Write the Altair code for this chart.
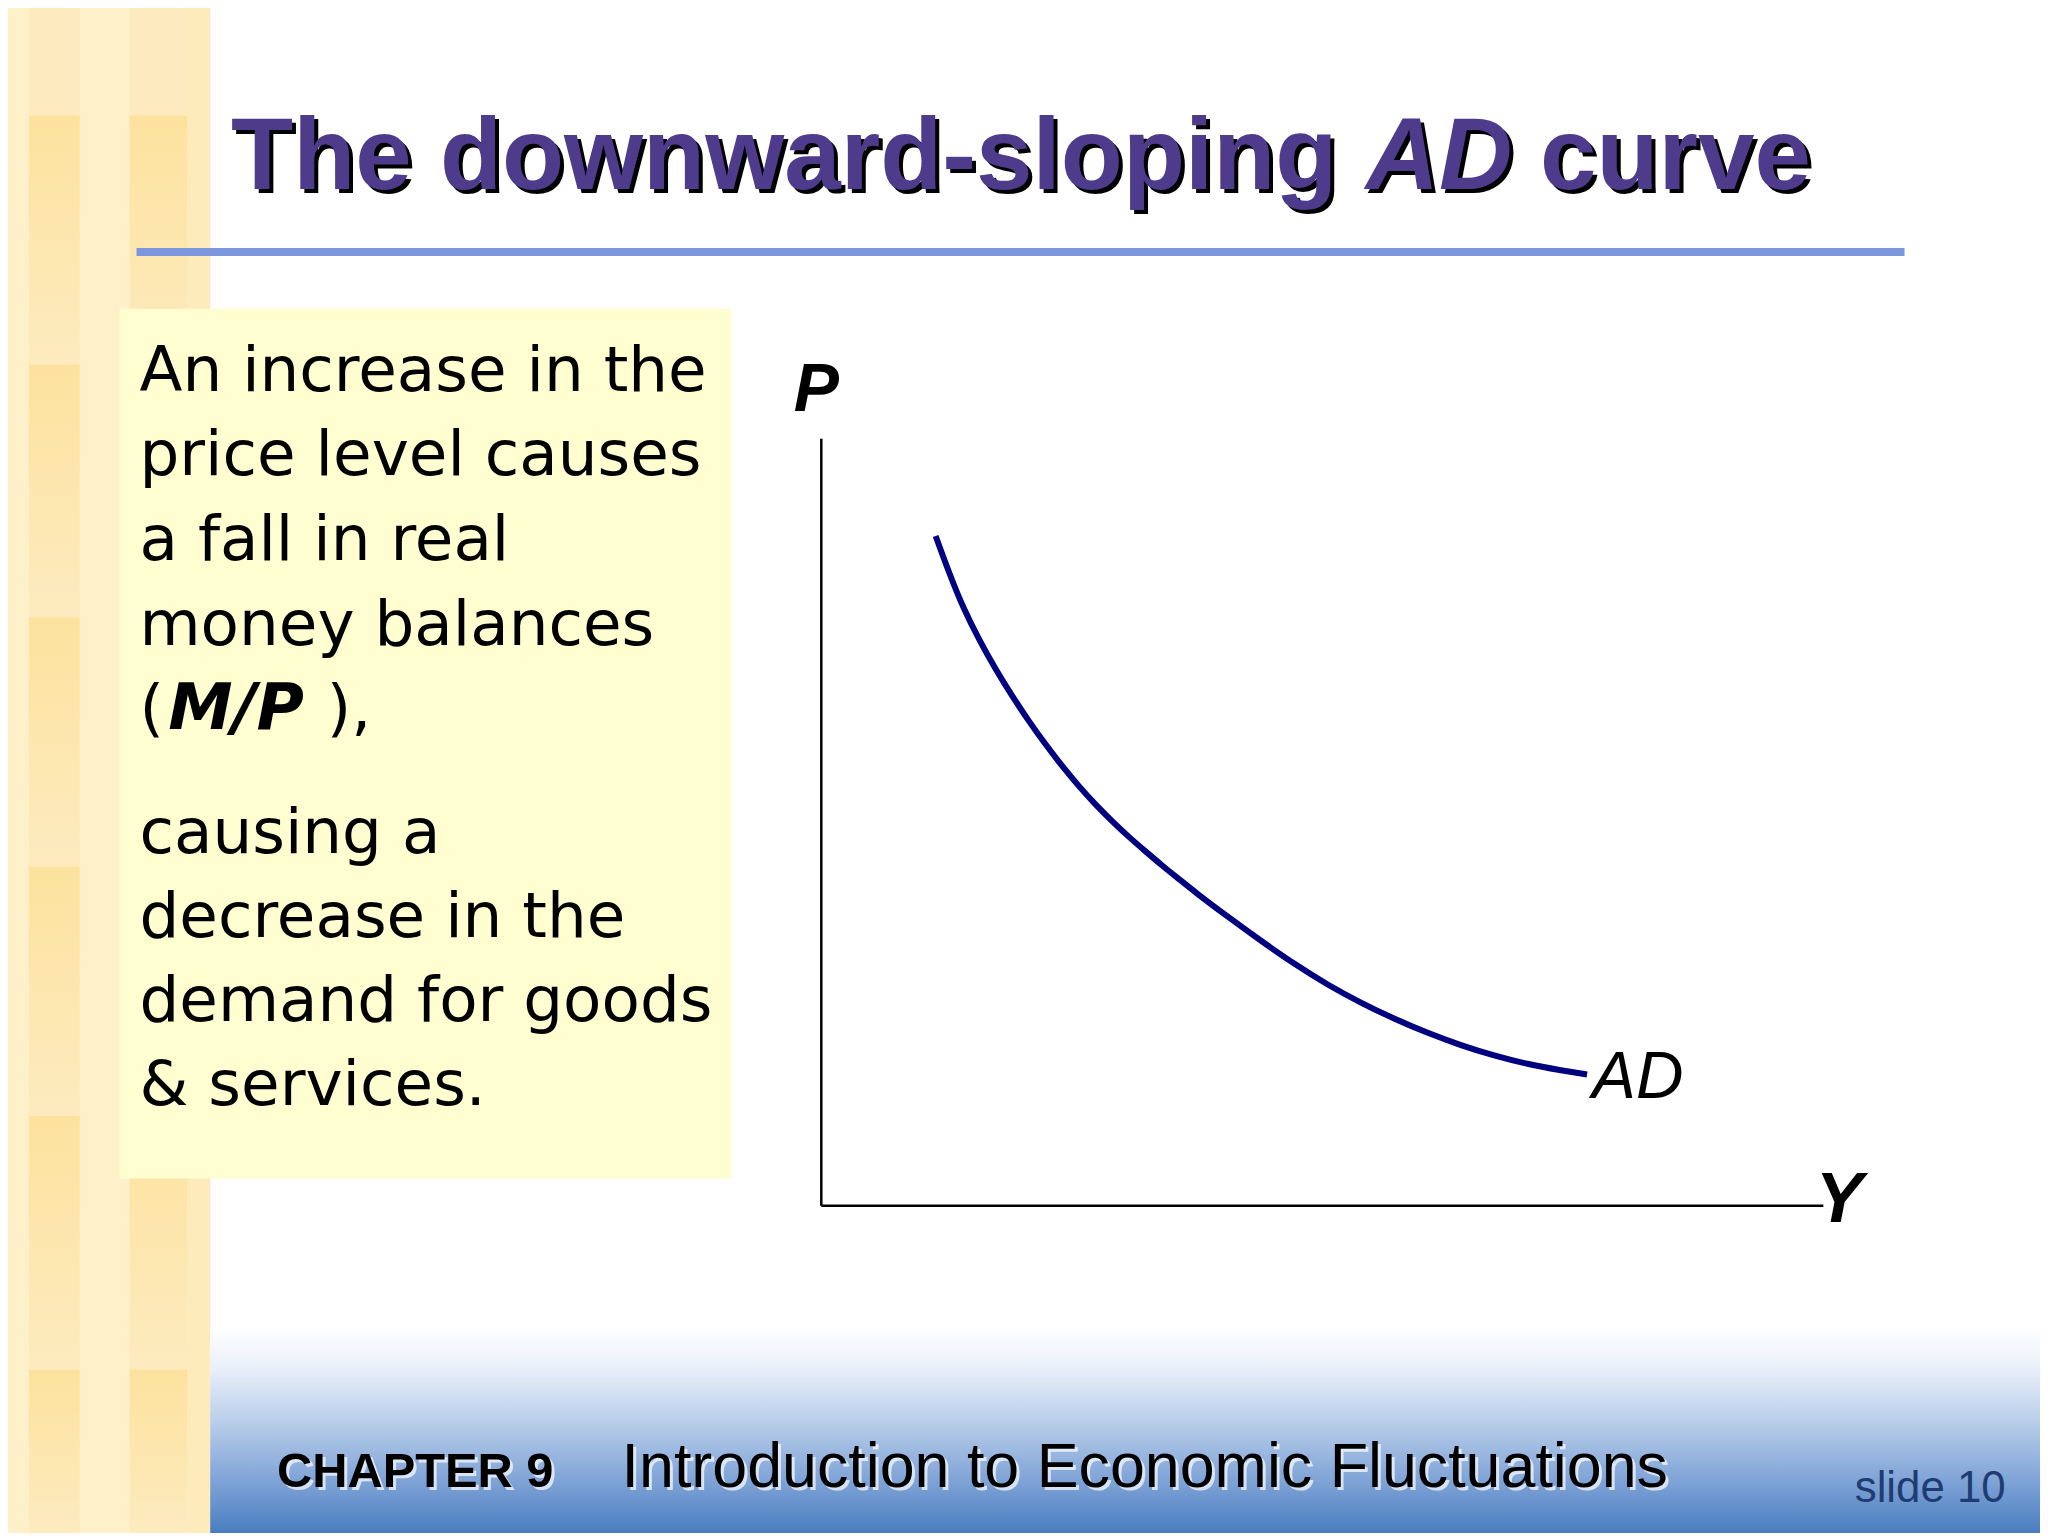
import altair as alt
import pandas as pd

# ---------------- data ----------------
# AD curve (output Y on x, price level P on y, 0-10 units)
ad_output = [1.146, 1.285, 1.418, 1.583, 1.750, 1.915, 2.081, 2.247, 2.413, 2.578,
             2.744, 2.910, 3.075, 3.241, 3.407, 3.572, 3.738, 4.069, 4.401, 4.732,
             5.063, 5.395, 5.726, 6.057, 6.389, 6.720, 7.051, 7.383, 7.647]
ad_price = [8.727, 8.230, 7.796, 7.364, 6.974, 6.627, 6.303, 6.000, 5.718, 5.458,
            5.221, 5.004, 4.801, 4.614, 4.429, 4.256, 4.080, 3.755, 3.440, 3.140,
            2.870, 2.635, 2.430, 2.245, 2.085, 1.950, 1.840, 1.760, 1.705]
curve_label = "AD"
axis_x_label = "Y"
axis_y_label = "P"

title_parts = ["The downward-sloping", "AD", "curve"]
para1 = ["An increase in the", "price level causes", "a fall in real", "money balances"]
para1_last = ["(", "M/P", "),"]
para2 = ["causing a", "decrease in the", "demand for goods", "& services."]
footer_chapter = "CHAPTER 9"
footer_title = "Introduction to Economic Fluctuations"
slide_label = "slide 10"

# ---------------- layout (page pixels) ----------------
OX, OY = 824, 437          # plot origin (top-left of axes box)
W, H = 1006, 770           # axes box
one = pd.DataFrame({"k": [0]})


def px(x):
    return x - OX


def py(y):
    return y - OY


def rect(x1, y1, x2, y2, fill, opacity=1):
    return alt.Chart(one).mark_rect(fill=fill, strokeWidth=0, opacity=opacity).encode(
        x=alt.value(px(x1)), x2=alt.value(px(x2)), y=alt.value(py(y1)), y2=alt.value(py(y2))
    )


def txt(s, x, y, size, font="DejaVu Sans", weight="normal", style="normal",
        color="black", align="left", opacity=1):
    return alt.Chart(one).mark_text(
        text=s, font=font, fontSize=size, fontWeight=weight, fontStyle=style,
        color=color, align=align, baseline="alphabetic", opacity=opacity
    ).encode(x=alt.value(px(x)), y=alt.value(py(y)))


def vgrad(stops):
    return alt.LinearGradient(
        gradient="linear", x1=0, x2=0, y1=0, y2=1,
        stops=[alt.GradientStop(offset=o, color=c) for o, c in stops],
    )


layers = []

# left decorative strip
layers.append(rect(0, 0, 211, 1536, "#FEF0C9"))
layers.append(rect(188, 0, 211, 1536, "#FDEBBC"))
bounds = [0, 113, 363, 617, 867, 1117, 1372, 1536]
for sx1, sx2 in [(29, 80), (130, 188)]:
    for i in range(len(bounds) - 1):
        if i == 0:
            layers.append(rect(sx1, bounds[i], sx2, bounds[i + 1], "#FDEBBF"))
        else:
            layers.append(rect(sx1, bounds[i], sx2, bounds[i + 1],
                               vgrad([(0, "#FDE29E"), (1, "#FDEBBF")])))

# footer gradient
layers.append(rect(211, 1330, 2048, 1536,
                   vgrad([(0, "#FFFFFF"), (0.2, "#E8EFF9"), (0.45, "#BBCFEA"),
                          (0.7, "#88AADA"), (1, "#4A7DC0")])))

# title with drop shadow
title_x = [232, 1371, 1546]
title_style = ["normal", "italic", "normal"]
for dx, col in [(4, "black"), (0, "#4F3B8B")]:
    for s, x, st in zip(title_parts, title_x, title_style):
        layers.append(txt(s, x + dx, 187 + dx, 102, font="Liberation Sans",
                          weight="bold", style=st, color=col))

# title rule
layers.append(rect(137, 246, 1912, 254, "#7B96DC"))

# text box
layers.append(rect(120, 307, 734, 1180, "#FFFED0"))
for i, line in enumerate(para1):
    layers.append(txt(line, 140, 389 + i * 85, 63))
layers.append(txt(para1_last[0], 140, 729, 63))
layers.append(txt(para1_last[1], 169, 729, 65, weight="bold", style="italic"))
layers.append(txt(para1_last[2], 328, 729, 63))
for i, line in enumerate(para2):
    layers.append(txt(line, 140, 853 + i * 84.5, 63))

# footer text
for dx, col, op in [(3, "white", 0.7), (0, "black", 1)]:
    layers.append(txt(footer_chapter, 278 + dx, 1490 + dx, 49, font="Liberation Sans",
                      weight="bold", color=col, opacity=op))
    layers.append(txt(footer_title, 624 + dx, 1490 + dx, 63, font="Liberation Sans",
                      color=col, opacity=op))
layers.append(txt(slide_label, 1862, 1505, 44, font="Liberation Sans", color="#1F3C72"))

# AD curve with axes
curve_df = pd.DataFrame({"Y": ad_output, "P": ad_price})
xs = alt.Scale(domain=[0, 10], nice=False, zero=False)
ys = alt.Scale(domain=[0, 10], nice=False, zero=False)
ax_common = dict(ticks=False, labels=False, grid=False, domainColor="black", domainWidth=2.5,
                 titleFont="Liberation Sans", titleFontWeight="bold", titleFontStyle="italic",
                 titleColor="black", titleAngle=0, titleAlign="center",
                 titleBaseline="alphabetic")
curve = alt.Chart(curve_df).mark_line(color="#000080", strokeWidth=6, interpolate="basis").encode(
    x=alt.X("Y:Q", scale=xs, axis=alt.Axis(title=axis_x_label, titleFontSize=71,
                                           titleX=1022, titleY=16, **ax_common)),
    y=alt.Y("P:Q", scale=ys, axis=alt.Axis(title=axis_y_label, titleFontSize=68,
                                           titleX=-5, titleY=-28, **ax_common)),
)
layers.append(curve)

label_df = pd.DataFrame({"Y": [ad_output[-1]], "P": [ad_price[-1]], "t": [curve_label]})
layers.append(
    alt.Chart(label_df).mark_text(font="Liberation Sans", fontStyle="italic", fontSize=66,
                                  align="left", baseline="alphabetic", dx=5, dy=24,
                                  color="black").encode(
        x=alt.X("Y:Q", scale=xs), y=alt.Y("P:Q", scale=ys), text="t:N")
)

chart = alt.layer(*layers).properties(
    width=W, height=H,
    autosize=alt.AutoSizeParams(type="none"),
    padding={"left": 816, "top": 429, "right": 218, "bottom": 329},
    background="white",
).configure_view(stroke="transparent")

chart.save("out.html", embed_options={"renderer": "svg", "actions": False})
